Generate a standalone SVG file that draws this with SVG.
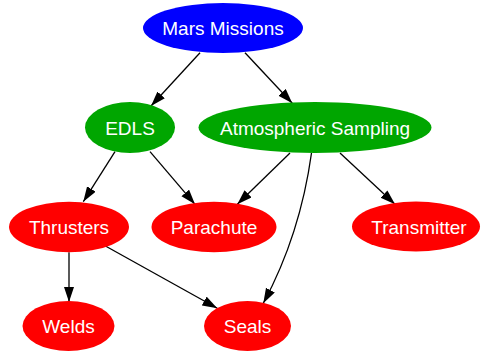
<svg xmlns="http://www.w3.org/2000/svg" width="481" height="351" viewBox="0 0 481 351">
<style>
text{font-family:"Liberation Sans",Arial,sans-serif;font-size:19px;fill:#fff;text-anchor:middle}
.e{fill:none;stroke:#000;stroke-width:1.3;marker-end:url(#ah)}
.b{fill:#0000ff}.g{fill:#00a600}.r{fill:#ff0000}
</style>
<defs>
<marker id="ah" markerUnits="userSpaceOnUse" markerWidth="16" markerHeight="11" refX="15" refY="5" orient="auto">
<path d="M0,0 L15,5 L0,10 z" fill="#000"/>
</marker>
</defs>
<rect width="481" height="351" fill="#fff"/>
<g id="edges">
<path class="e" d="M200,52.7 L151,106"/>
<path class="e" d="M245,52.7 L292.3,103.3"/>
<path class="e" d="M115,151.7 L83.3,201.7"/>
<path class="e" d="M150,151.7 L195,204.3"/>
<path class="e" d="M290,153 L237.3,204.3"/>
<path class="e" d="M311.5,153 C305,200 292,250 263.3,303.3"/>
<path class="e" d="M340,153 L395,204.3"/>
<path class="e" d="M69,252.3 L69,302"/>
<path class="e" d="M105,245.7 L217.3,308.3"/>
</g>
<g id="mars"><ellipse class="b" cx="223" cy="28" rx="80" ry="25"/><text x="223" y="35">Mars Missions</text></g>
<g id="edls"><ellipse class="g" cx="130" cy="127.5" rx="45" ry="25.5"/><text x="130" y="134.5">EDLS</text></g>
<g id="atmos"><ellipse class="g" cx="315" cy="127.5" rx="116.5" ry="25.5"/><text x="315" y="134.5">Atmospheric Sampling</text></g>
<g id="thrusters"><ellipse class="r" cx="69" cy="227" rx="60" ry="25.3"/><text x="69" y="234">Thrusters</text></g>
<g id="parachute"><ellipse class="r" cx="214" cy="227" rx="62.5" ry="25.3"/><text x="214" y="234">Parachute</text></g>
<g id="transmitter"><ellipse class="r" cx="416" cy="226.5" rx="64" ry="25"/><text x="419" y="233.5">Transmitter</text></g>
<g id="welds"><ellipse class="r" cx="68.5" cy="326" rx="46" ry="25"/><text x="68.5" y="333">Welds</text></g>
<g id="seals"><ellipse class="r" cx="247.5" cy="326" rx="43.5" ry="25"/><text x="247.5" y="333">Seals</text></g>
</svg>
